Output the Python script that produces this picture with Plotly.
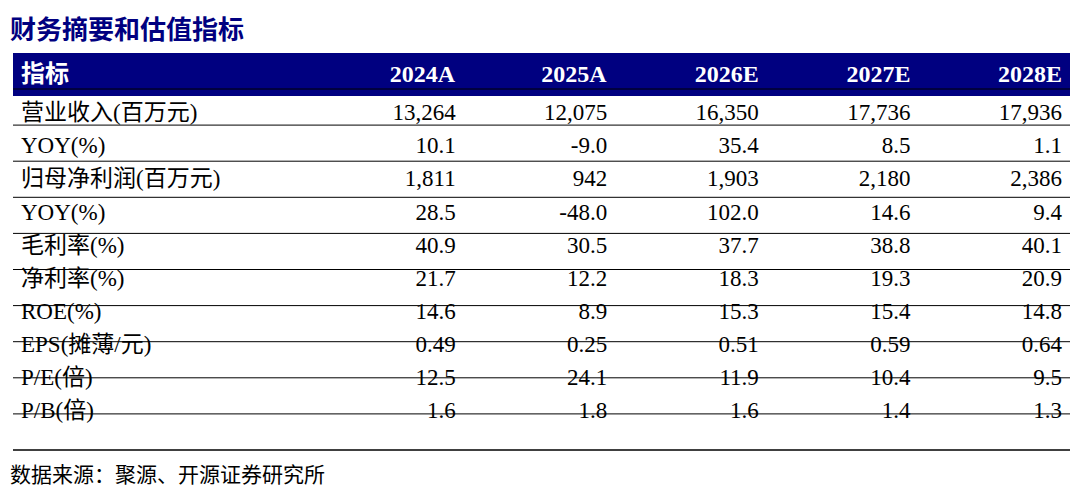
import plotly.graph_objects as go

title = "财务摘要和估值指标"
source = "数据来源：聚源、开源证券研究所"
years = ["2024A", "2025A", "2026E", "2027E", "2028E"]
metrics = ["营业收入(百万元)", "YOY(%)", "归母净利润(百万元)", "YOY(%)", "毛利率(%)",
           "净利率(%)", "ROE(%)", "EPS(摊薄/元)", "P/E(倍)", "P/B(倍)"]
v2024 = ["13,264", "10.1", "1,811", "28.5", "40.9", "21.7", "14.6", "0.49", "12.5", "1.6"]
v2025 = ["12,075", "-9.0", "942", "-48.0", "30.5", "12.2", "8.9", "0.25", "24.1", "1.8"]
v2026 = ["16,350", "35.4", "1,903", "102.0", "37.7", "18.3", "15.3", "0.51", "11.9", "1.6"]
v2027 = ["17,736", "8.5", "2,180", "14.6", "38.8", "19.3", "15.4", "0.59", "10.4", "1.4"]
v2028 = ["17,936", "1.1", "2,386", "9.4", "40.1", "20.9", "14.8", "0.64", "9.5", "1.3"]

W, H = 1080, 489
navy = "#000080"
font = "Liberation Serif, Times New Roman, Noto Sans CJK SC"
top, hh, rh = 45, 36, 36.1
x0, x1 = 5, 1062

fig = go.Figure(go.Table(
    domain=dict(x=[x0 / W, x1 / W], y=[0, 1 - top / H]),
    columnwidth=[300, 152, 152, 152, 152, 152],
    header=dict(values=["<b>指标</b>"] + ["<b>%s</b>" % y for y in years],
                fill_color=navy, line_color=navy, height=hh,
                align=["left"] + ["right"] * 5,
                font=dict(color="white", size=24, family=font)),
    cells=dict(values=[metrics, v2024, v2025, v2026, v2027, v2028],
               fill_color="white", line_color="white", height=rh - 3,
               align=["left"] + ["right"] * 5,
               font=dict(color="black", size=23, family=font)),
))

# horizontal rules between rows
for i in range(len(metrics) + 1):
    y = top + hh + i * rh
    fig.add_shape(type="line", xref="paper", yref="paper",
                  x0=x0 / W, x1=x1 / W, y0=1 - y / H, y1=1 - y / H,
                  line=dict(color="black", width=1.5 if i == len(metrics) else 1))

fig.add_annotation(text="<b>" + title + "</b>", x=0, y=1 - 22 / H, xref="paper", yref="paper",
                   xanchor="left", yanchor="middle", showarrow=False,
                   font=dict(size=26, color=navy, family=font))
fig.add_annotation(text=source, x=0, y=1 - 467 / H, xref="paper", yref="paper",
                   xanchor="left", yanchor="middle", showarrow=False,
                   font=dict(size=21, color="black", family=font))

fig.update_layout(width=W, height=H, margin=dict(l=0, r=0, t=0, b=0),
                  paper_bgcolor="white", plot_bgcolor="white")
fig.write_html("out.html")
